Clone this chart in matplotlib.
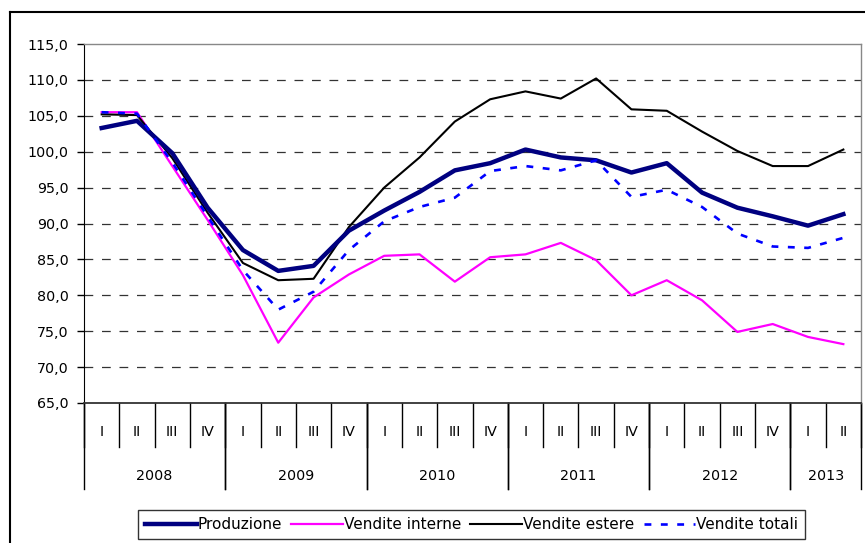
import matplotlib
matplotlib.use('Agg')
import matplotlib.pyplot as plt
from matplotlib.lines import Line2D

quarters = ["I", "II", "III", "IV"] * 5 + ["I", "II"]
years = ["2008", "2009", "2010", "2011", "2012", "2013"]
year_sizes = [4, 4, 4, 4, 4, 2]

produzione = [103.3, 104.3, 99.8, 92.2, 86.3, 83.4, 84.1, 89.0, 91.8, 94.4, 97.4, 98.4,
              100.3, 99.2, 98.8, 97.1, 98.4, 94.3, 92.2, 91.0, 89.7, 91.3]
vendite_interne = [105.5, 105.5, 98.0, 90.5, 82.8, 73.4, 79.7, 82.9, 85.5, 85.7, 81.9, 85.3,
                   85.7, 87.3, 84.9, 80.0, 82.1, 79.3, 74.9, 76.0, 74.2, 73.2]
vendite_estere = [105.2, 105.1, 99.1, 91.5, 84.5, 82.1, 82.3, 89.5, 95.0, 99.2, 104.2, 107.3,
                  108.4, 107.4, 110.2, 105.9, 105.7, 102.8, 100.1, 98.0, 98.0, 100.3]
vendite_totali = [105.5, 105.3, 98.5, 91.0, 83.5, 78.0, 80.5, 86.3, 90.3, 92.3, 93.6, 97.3,
                  98.0, 97.4, 98.8, 93.7, 94.7, 92.3, 88.6, 86.8, 86.6, 88.0]

W, H = 865, 543
fig = plt.figure(figsize=(W / 100, H / 100), dpi=100)
ax = fig.add_axes([84 / W, 1 - 403 / H, (861 - 84) / W, (403 - 44) / H])

x = list(range(len(quarters)))
ax.plot(x, vendite_interne, color="#FF00FF", lw=1.6, label="Vendite interne", zorder=3)
ax.plot(x, vendite_estere, color="black", lw=1.5, label="Vendite estere", zorder=4)
ax.plot(x, produzione, color="#000080", lw=3.2, label="Produzione", zorder=5)
ax.plot(x, vendite_totali, color="#0000FF", lw=1.9, ls=(0, (2.6, 3.6)), label="Vendite totali", zorder=6)

ax.set_xlim(-0.5, len(quarters) - 0.5)
ax.set_ylim(65, 115)
yt = list(range(65, 116, 5))
ax.set_yticks(yt)
ax.set_yticklabels([f"{v:.1f}".replace(".", ",") for v in yt], fontsize=10.3)
ax.tick_params(axis="y", direction="out", length=5, width=1, pad=6)
for v in yt[1:-1]:
    ax.axhline(v, color="#333333", lw=0.9, ls=(0, (7, 7)), zorder=1)

ax.set_xticks([])
for s in ["top", "right"]:
    ax.spines[s].set_color("#888888")
    ax.spines[s].set_linewidth(1)
ax.spines["left"].set_color("black")
ax.spines["bottom"].set_color("#333333")
ax.spines["bottom"].set_linewidth(1.3)

# two-level category axis
trans = ax.get_xaxis_transform()
for i, q in enumerate(quarters):
    ax.text(i, -0.081, q, transform=trans, ha="center", va="center", fontsize=10.3)
for k in range(len(quarters) + 1):
    ax.add_line(Line2D([k - 0.5, k - 0.5], [0, -0.123], transform=trans,
                       color="black", lw=1, clip_on=False))
start = 0
for yr, n in zip(years, year_sizes):
    ax.text(start + n / 2 - 0.5, -0.203, yr, transform=trans, ha="center", va="center", fontsize=10.3)
    for b in (start, start + n):
        ax.add_line(Line2D([b - 0.5, b - 0.5], [0, -0.24], transform=trans,
                           color="black", lw=1, clip_on=False))
    start += n

# outer chart border
fig.add_artist(Line2D([10 / W, 10 / W], [0, 1 - 12 / H], color="black", lw=1.5))
fig.add_artist(Line2D([10 / W, 1], [1 - 12 / H, 1 - 12 / H], color="black", lw=1.5))

handles, labels = ax.get_legend_handles_labels()
order = [2, 0, 1, 3]
leg = fig.legend([handles[i] for i in order], [labels[i] for i in order],
                 loc="upper center", bbox_to_anchor=(471.5 / W, 1 - 510 / H),
                 ncol=4, fontsize=11, frameon=True, fancybox=False,
                 handlelength=3.4, handletextpad=0.05, columnspacing=0.6,
                 borderpad=0.45, borderaxespad=0)
leg.get_frame().set_edgecolor("black")
leg.get_frame().set_linewidth(1)

fig.savefig("out.png", dpi=100)
